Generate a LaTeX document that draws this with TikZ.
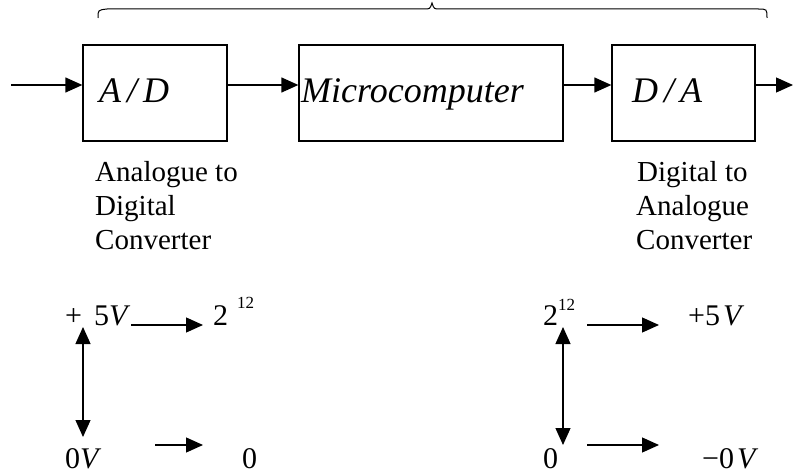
\documentclass[tikz,border=0pt]{standalone}
\usepackage{fontspec}
\setmainfont{Liberation Serif}
\usetikzlibrary{arrows.meta}
\begin{document}
\begin{tikzpicture}[x=1pt,y=-1pt,
  blk/.style={draw,line width=1.3pt,inner sep=0pt,minimum height=96pt},
  big/.style={inner sep=0pt,anchor=base west,font=\fontsize{36}{40}\selectfont\itshape},
  lbl/.style={inner sep=0pt,anchor=base west,font=\fontsize{29}{34}\selectfont},
  val/.style={inner sep=0pt,anchor=base west,font=\fontsize{30}{34}\selectfont},
  arr/.style={line width=1.3pt,-{Triangle[length=17pt,width=15pt]}},
  darr/.style={line width=1.3pt,{Triangle[length=17pt,width=15pt]}-{Triangle[length=17pt,width=15pt]}}]
\useasboundingbox (0,0) rectangle (793,473);
% blocks
\node[blk,minimum width=144pt] (ad) at (155,93) {};
\node[blk,minimum width=264pt] (mc) at (431,93) {};
\node[blk,minimum width=143pt] (da) at (683.5,93) {};
\node[big] (adt) at (99,103) {A\,/\,D};
\node[big] (mct) at (301,103) {Microcomputer};
\node[big] (dat) at (632,103) {D\,/\,A};
\coordinate (in) at (11,85);
\coordinate (out) at (793,85);
\draw[arr] (in) -- (ad.west |- in);
\draw[arr] (ad.east |- in) -- (mc.west |- in);
\draw[arr] (mc.east |- in) -- (da.west |- in);
\draw[arr] (da.east |- in) -- (out);
% brace
\coordinate (bl) at (98,18);
\coordinate (bm) at (432,3);
\coordinate (br) at (767,18);
\draw[line width=1pt] (bl) .. controls (98,10) .. (107,9) -- (424,9)
  .. controls (430,9) .. (bm) .. controls (434,9) .. (440,9) -- (758,9)
  .. controls (767,9) .. (br);
% labels
\node[lbl] (l1) at (95,182) {Analogue to};
\node[lbl] (l2) at (95,216) {Digital};
\node[lbl] (l3) at (95,250) {Converter};
\node[lbl] (r1) at (637,182) {Digital to};
\node[lbl] (r2) at (636,216) {Analogue};
\node[lbl] (r3) at (636,250) {Converter};
% left scale
\node[val] (lp5) at (65,325) {+\hspace{0.4em}5\textit{V}};
\node[val] (l212) at (213,325) {2\hspace{0.3em}\raisebox{0.55em}{\fontsize{17}{17}\selectfont 12}};
\node[val] (l0v) at (65,468) {0\textit{V}};
\node[val] (l0) at (242,468) {0};
\coordinate (la1) at (131,325); \coordinate (la2) at (203,325);
\coordinate (lb1) at (155,445); \coordinate (lb2) at (203,445);
\coordinate (lv1) at (83,327); \coordinate (lv2) at (83,437);
\draw[arr] (la1) -- (la2);
\draw[arr] (lb1) -- (lb2);
\draw[darr] (lv1) -- (lv2);
% right scale
\node[val] (r212) at (543,325) {2\raisebox{0.5em}{\fontsize{17}{17}\selectfont 12}};
\node[val] (rp5) at (688,325) {+5\hspace{0.1em}\textit{V}};
\node[val] (r0) at (543,468) {0};
\node[val] (rm0) at (702,468) {−0\hspace{0.1em}\textit{V}};
\coordinate (ra1) at (587,325); \coordinate (ra2) at (659,325);
\coordinate (rb1) at (587,445); \coordinate (rb2) at (659,445);
\coordinate (rv1) at (563,327); \coordinate (rv2) at (563,445);
\draw[arr] (ra1) -- (ra2);
\draw[arr] (rb1) -- (rb2);
\draw[darr] (rv1) -- (rv2);
\end{tikzpicture}
\end{document}
